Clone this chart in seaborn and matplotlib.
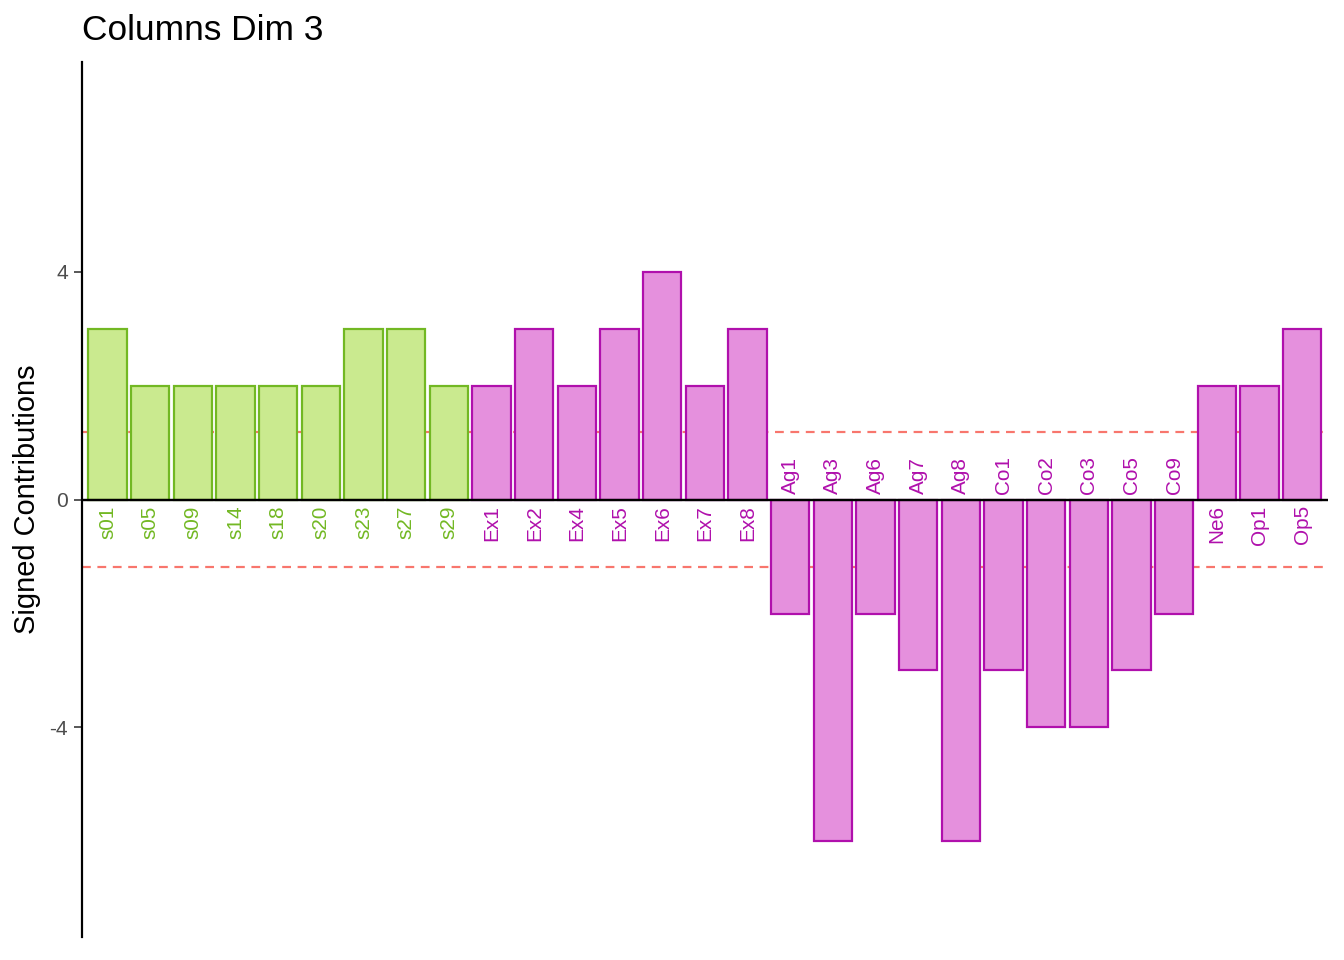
import matplotlib
matplotlib.use("Agg")
import matplotlib.pyplot as plt
import seaborn as sns
import pandas as pd

labels = ["s01", "s05", "s09", "s14", "s18", "s20", "s23", "s27", "s29",
          "Ex1", "Ex2", "Ex4", "Ex5", "Ex6", "Ex7", "Ex8",
          "Ag1", "Ag3", "Ag6", "Ag7", "Ag8",
          "Co1", "Co2", "Co3", "Co5", "Co9",
          "Ne6", "Op1", "Op5"]
values = [3, 2, 2, 2, 2, 2, 3, 3, 2,
          2, 3, 2, 3, 4, 2, 3,
          -2, -6, -2, -3, -6,
          -3, -4, -4, -3, -2,
          2, 2, 3]
groups = ["s"] * 9 + ["p"] * 20
threshold = 1.19

fill_colors = {"s": "#CAEA8F", "p": "#E590DD"}
edge_colors = {"s": "#72B823", "p": "#B010AC"}

df = pd.DataFrame({"label": labels, "value": values, "group": groups})

sns.set_style("white")
plt.rcParams["font.family"] = ["Liberation Sans", "DejaVu Sans"]

fig = plt.figure(figsize=(1344 / 144, 960 / 144), dpi=144)
ax = fig.add_axes([0.061, 0.024, 0.927, 0.911])

ax.axhline(threshold, color="#F8766D", ls=(0, (4, 3)), lw=1.1, zorder=0.5)
ax.axhline(-threshold, color="#F8766D", ls=(0, (4, 3)), lw=1.1, zorder=0.5)

sns.barplot(data=df, x="label", y="value", hue="group", order=labels,
            palette=fill_colors, dodge=False, width=0.9, legend=False,
            linewidth=1.1, saturation=1, ax=ax, zorder=2)

for p in ax.patches:
    fc = matplotlib.colors.to_hex(p.get_facecolor())
    if fc.lower() == fill_colors["s"].lower():
        p.set_edgecolor(edge_colors["s"])
    else:
        p.set_edgecolor(edge_colors["p"])
    p.set_linewidth(1.1)
    p.set_zorder(2)

ax.axhline(0, color="black", lw=1.2, zorder=3)

for i, (lab, v, g) in enumerate(zip(labels, values, groups)):
    if v >= 0:
        ax.text(i, -0.1, lab, rotation=90, ha="center", va="top",
                color=edge_colors[g], fontsize=10.4)
    else:
        ax.text(i, 0.1, lab, rotation=90, ha="center", va="bottom",
                color=edge_colors[g], fontsize=10.4)

ax.set_xlim(-0.6, len(labels) - 1 + 0.6)
ax.set_ylim(-7.68, 7.68)
ax.set_yticks([-4, 0, 4])
ax.set_yticklabels(["-4", "0", "4"])
ax.tick_params(axis="y", left=True, length=4, width=0.8, color="#333333",
               labelcolor="#4D4D4D", labelsize=10.5, pad=3)
ax.set_xticks([])
ax.set_xlabel("")
ax.set_ylabel("Signed Contributions", fontsize=14.5, color="black", labelpad=4)
ax.set_title("Columns Dim 3", loc="left", fontsize=17.6, color="black", pad=11)

for s in ["top", "right", "bottom"]:
    ax.spines[s].set_visible(False)
ax.spines["left"].set_color("black")
ax.spines["left"].set_linewidth(1.1)

fig.savefig("out.png", dpi=144)
